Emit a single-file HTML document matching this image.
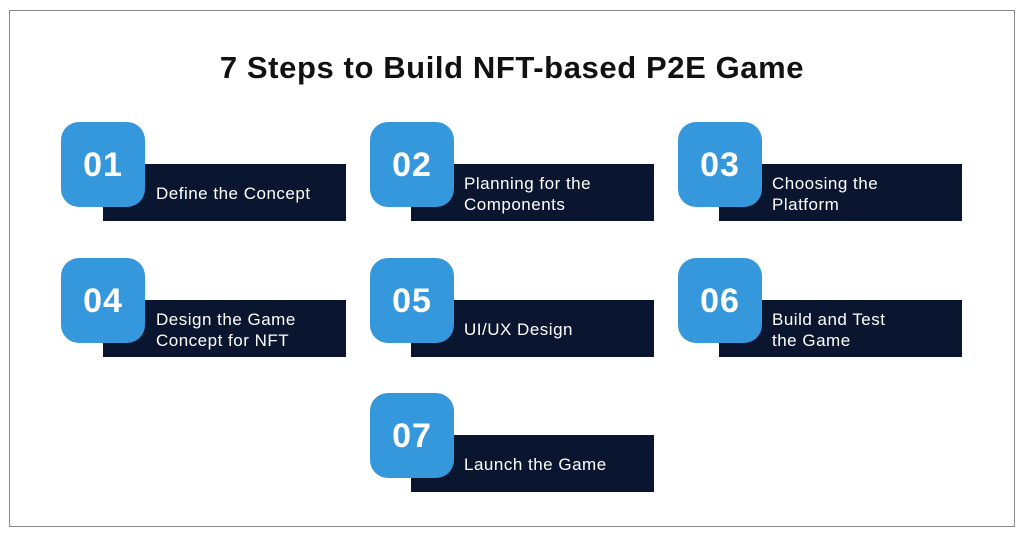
<!DOCTYPE html>
<html><head><style>
body{margin:0;width:1024px;height:538px;background:#fff;position:relative;font-family:"Liberation Sans",sans-serif;overflow:hidden}
.frame{position:absolute;left:9px;top:10px;width:1006px;height:517px;border:1px solid #888;box-sizing:border-box}
h1{position:absolute;left:0;width:1024px;top:50px;margin:0;text-align:center;font-size:31px;letter-spacing:0.6px;font-weight:bold;color:#111}
.r{position:absolute;width:243px;height:57px;background:#0a1530;color:#fff;font-size:17px;letter-spacing:0.5px;line-height:21px;display:flex;align-items:center;box-sizing:border-box;padding-left:53px;padding-top:2px}
.s{position:absolute;width:84px;height:85px;background:#3598dc;border-radius:18px;color:#fff;font-weight:bold;font-size:34px;letter-spacing:1px;display:flex;align-items:center;justify-content:center;padding-top:2px;box-sizing:border-box}
</style></head><body>
<div class="frame"></div>
<h1>7 Steps to Build NFT-based P2E Game</h1>

<div class="r" style="left:103px;top:164px">Define the Concept</div>
<div class="s" style="left:61px;top:122px">01</div>
<div class="r" style="left:411px;top:164px">Planning for the<br>Components</div>
<div class="s" style="left:370px;top:122px">02</div>
<div class="r" style="left:719px;top:164px">Choosing the<br>Platform</div>
<div class="s" style="left:678px;top:122px">03</div>

<div class="r" style="left:103px;top:300px">Design the Game<br>Concept for NFT</div>
<div class="s" style="left:61px;top:258px">04</div>
<div class="r" style="left:411px;top:300px">UI/UX Design</div>
<div class="s" style="left:370px;top:258px">05</div>
<div class="r" style="left:719px;top:300px">Build and Test<br>the Game</div>
<div class="s" style="left:678px;top:258px">06</div>

<div class="r" style="left:411px;top:435px">Launch the Game</div>
<div class="s" style="left:370px;top:393px">07</div>
</body></html>
